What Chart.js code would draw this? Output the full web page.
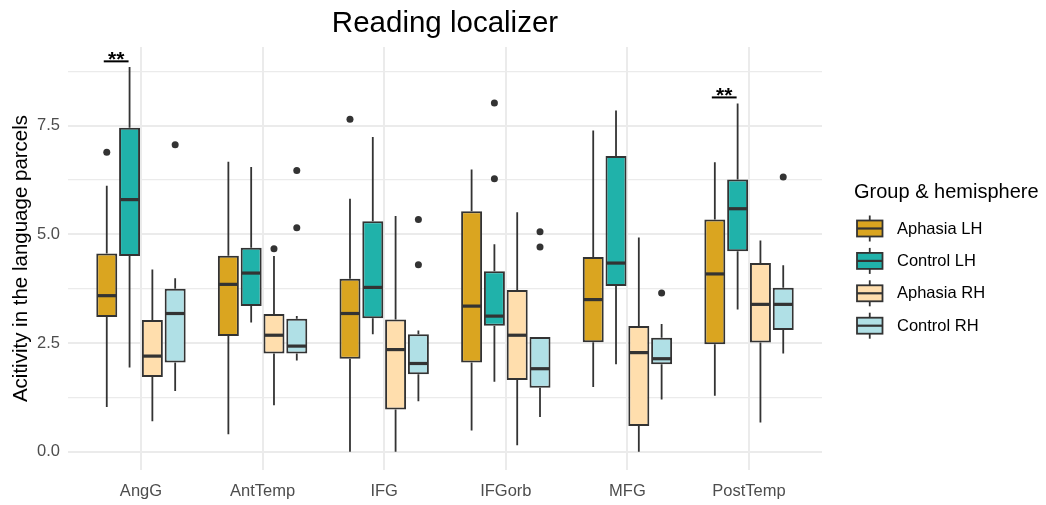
<!DOCTYPE html>
<html>
<head>
<meta charset="utf-8">
<script src="https://cdn.jsdelivr.net/npm/chart.js@4.4.1/dist/chart.umd.min.js"></script>
<style>
  html, body { margin: 0; padding: 0; background: #ffffff; }
</style>
</head>
<body>
<canvas id="boxChart" width="1046" height="505"></canvas>
<script>
const regions = ['AngG', 'AntTemp', 'IFG', 'IFGorb', 'MFG', 'PostTemp'];
const groupNames = ['Aphasia LH', 'Control LH', 'Aphasia RH', 'Control RH'];
const groupColors = ['#DAA520', '#20B2AA', '#FFDEAD', '#B0E0E6'];

// per region: [lower whisker, q1, median, q3, upper whisker]
const aphasiaLH = [
  [1.03, 3.10, 3.59, 4.56, 6.12],
  [0.40, 2.66, 3.85, 4.51, 6.67],
  [0.00, 2.14, 3.18, 3.98, 5.82],
  [0.49, 2.05, 3.35, 5.53, 6.49],
  [1.49, 2.52, 3.50, 4.48, 7.39],
  [1.29, 2.47, 4.09, 5.34, 6.66]
];
const controlLH = [
  [1.94, 4.50, 5.80, 7.45, 8.85],
  [2.97, 3.35, 4.11, 4.69, 6.55],
  [2.70, 3.07, 3.78, 5.30, 7.24],
  [1.61, 2.90, 3.12, 4.15, 4.77],
  [2.01, 3.81, 4.34, 6.80, 7.85],
  [3.27, 4.61, 5.59, 6.26, 8.01]
];
const aphasiaRH = [
  [0.70, 1.72, 2.20, 3.03, 4.19],
  [1.07, 2.26, 2.68, 3.17, 4.50],
  [0.00, 0.97, 2.35, 3.04, 5.42],
  [0.15, 1.65, 2.68, 3.72, 5.51],
  [0.00, 0.59, 2.28, 2.89, 4.93],
  [0.67, 2.51, 3.39, 4.34, 4.86]
];
const controlRH = [
  [1.40, 2.05, 3.18, 3.75, 3.99],
  [2.10, 2.26, 2.43, 3.06, 3.12],
  [1.16, 1.78, 2.03, 2.70, 2.79],
  [0.80, 1.47, 1.91, 2.64, 2.64],
  [1.20, 2.01, 2.14, 2.62, 2.94],
  [2.26, 2.80, 3.39, 3.77, 4.29]
];

// outlying points per region
const aphasiaLHOut = [[6.89], [], [7.65], [], [], []];
const controlLHOut = [[], [], [], [8.02, 6.28], [], []];
const aphasiaRHOut = [[], [4.67], [], [], [], []];
const controlRHOut = [[7.06], [6.47, 5.15], [5.34, 4.30], [5.06, 4.71], [3.65], [6.32]];

// Aphasia LH vs Control LH comparisons
const sigRegions = ['AngG', 'PostTemp'];
const sigHeights = [8.98, 8.15];
const sigLabels = ['**', '**'];

const yTicks = [0, 1.25, 2.5, 3.75, 5, 6.25, 7.5, 8.75];

const FONT = "'Liberation Sans', Arial, sans-serif";
const INK = '#333333';

const summaries = [aphasiaLH, controlLH, aphasiaRH, controlRH];
const outliers = [aphasiaLHOut, controlLHOut, aphasiaRHOut, controlRHOut];

const datasets = groupNames.map((name, g) => ({
  label: name,
  data: summaries[g].map((s, i) => ({ x: i, y: [s[1], s[3]] })),
  stats: summaries[g],
  outliers: outliers[g],
  backgroundColor: groupColors[g],
  borderColor: INK,
  borderWidth: 2,
  borderSkipped: false,
  categoryPercentage: 0.75,
  barPercentage: 0.92
}));

// whiskers, medians, outliers, brackets, titles and legend
const boxPlotPlugin = {
  id: 'boxPlot',
  beforeDatasetsDraw(chart) {
    const ctx = chart.ctx;
    const y = chart.scales.y;
    ctx.save();
    ctx.strokeStyle = INK;
    ctx.lineWidth = 1.8;
    chart.data.datasets.forEach((ds, d) => {
      chart.getDatasetMeta(d).data.forEach((bar, i) => {
        const s = ds.stats[i];
        ctx.beginPath();
        ctx.moveTo(bar.x, y.getPixelForValue(s[4]));
        ctx.lineTo(bar.x, y.getPixelForValue(s[3]));
        ctx.moveTo(bar.x, y.getPixelForValue(s[1]));
        ctx.lineTo(bar.x, y.getPixelForValue(s[0]));
        ctx.stroke();
      });
    });
    ctx.restore();
  },
  afterDatasetsDraw(chart) {
    const ctx = chart.ctx;
    const y = chart.scales.y;
    ctx.save();
    chart.data.datasets.forEach((ds, d) => {
      chart.getDatasetMeta(d).data.forEach((bar, i) => {
        const half = bar.width / 2;
        const my = y.getPixelForValue(ds.stats[i][2]);
        ctx.strokeStyle = INK;
        ctx.lineWidth = 3.2;
        ctx.beginPath();
        ctx.moveTo(bar.x - half + 1, my);
        ctx.lineTo(bar.x + half - 1, my);
        ctx.stroke();
        ctx.fillStyle = INK;
        ds.outliers[i].forEach(v => {
          ctx.beginPath();
          ctx.arc(bar.x, y.getPixelForValue(v), 3.5, 0, Math.PI * 2);
          ctx.fill();
        });
      });
    });

    // significance brackets
    const m0 = chart.getDatasetMeta(0).data;
    const m1 = chart.getDatasetMeta(1).data;
    sigRegions.forEach((r, k) => {
      const c = regions.indexOf(r);
      const x0 = m0[c].x - 3;
      const x1 = m1[c].x - 1;
      const ly = y.getPixelForValue(sigHeights[k]);
      ctx.strokeStyle = '#000';
      ctx.lineWidth = 2;
      ctx.beginPath();
      ctx.moveTo(x0, ly);
      ctx.lineTo(x1, ly);
      ctx.stroke();
      ctx.fillStyle = '#000';
      ctx.font = 'bold 21px ' + FONT;
      ctx.textAlign = 'center';
      ctx.textBaseline = 'alphabetic';
      ctx.fillText(sigLabels[k], (x0 + x1) / 2, ly + 5);
    });
    ctx.restore();
  },
  afterDraw(chart) {
    const ctx = chart.ctx;
    const area = chart.chartArea;
    ctx.save();
    ctx.fillStyle = '#000';

    // plot title
    ctx.font = '29.5px ' + FONT;
    ctx.textAlign = 'center';
    ctx.textBaseline = 'alphabetic';
    ctx.fillText('Reading localizer', (area.left + area.right) / 2, 32);

    // y axis title
    ctx.save();
    ctx.translate(21.5, (area.top + area.bottom) / 2);
    ctx.rotate(-Math.PI / 2);
    ctx.font = '20.5px ' + FONT;
    ctx.textBaseline = 'middle';
    ctx.fillText('Acitivity in the language parcels', 0, 0);
    ctx.restore();

    // legend
    ctx.textAlign = 'left';
    ctx.font = '20px ' + FONT;
    ctx.fillText('Group & hemisphere', 854, 198);
    ctx.font = '16.5px ' + FONT;
    ctx.textBaseline = 'middle';
    groupNames.forEach((name, g) => {
      const cy = 228.5 + g * 32.4;
      const kx = 857, kw = 25.5, kh = 16;
      ctx.strokeStyle = INK;
      ctx.lineWidth = 1.8;
      ctx.beginPath();
      ctx.moveTo(kx + kw / 2, cy - 13);
      ctx.lineTo(kx + kw / 2, cy + 13);
      ctx.stroke();
      ctx.fillStyle = groupColors[g];
      ctx.fillRect(kx, cy - kh / 2, kw, kh);
      ctx.strokeRect(kx, cy - kh / 2, kw, kh);
      ctx.lineWidth = 2.2;
      ctx.beginPath();
      ctx.moveTo(kx, cy);
      ctx.lineTo(kx + kw, cy);
      ctx.stroke();
      ctx.fillStyle = '#000';
      ctx.fillText(name, 897, cy + 0.5);
    });
    ctx.restore();
  }
};

Chart.defaults.font.family = FONT;

new Chart(document.getElementById('boxChart'), {
  type: 'bar',
  data: { datasets },
  plugins: [boxPlotPlugin],
  options: {
    responsive: false,
    devicePixelRatio: 1,
    animation: false,
    layout: { padding: { top: 47, right: 224, left: 0, bottom: 0 } },
    plugins: {
      legend: { display: false },
      tooltip: { enabled: false }
    },
    scales: {
      x: {
        type: 'linear',
        min: -0.6,
        max: 5.6,
        offset: false,
        afterBuildTicks: s => { s.ticks = regions.map((r, i) => ({ value: i })); },
        afterFit: s => { s.height = 35; },
        ticks: {
          callback: v => regions[v],
          color: '#4D4D4D',
          font: { size: 16.5 },
          padding: 12,
          maxRotation: 0,
          autoSkip: false
        },
        grid: { color: '#EBEBEB', lineWidth: 2, drawTicks: false, offset: false },
        border: { display: false }
      },
      y: {
        min: -0.42,
        max: 9.31,
        afterBuildTicks: s => { s.ticks = yTicks.map(v => ({ value: v })); },
        afterFit: s => { s.width = 68; },
        ticks: {
          callback: v => (v % 2.5 === 0 ? v.toFixed(1) : ''),
          color: '#4D4D4D',
          font: { size: 16.5 },
          padding: 8
        },
        grid: {
          color: '#EBEBEB',
          lineWidth: c => (c.tick && c.tick.value % 2.5 === 0 ? 2 : 1.2),
          drawTicks: false
        },
        border: { display: false }
      }
    }
  }
});
</script>
</body>
</html>
